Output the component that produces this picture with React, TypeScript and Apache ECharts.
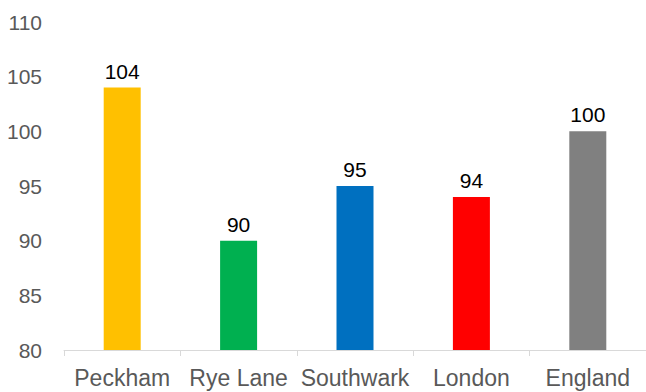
import React, { useEffect, useRef } from "react";
import * as echarts from "echarts";

const categories = ["Peckham", "Rye Lane", "Southwark", "London", "England"];
const values = [104, 90, 95, 94, 100];
const barColors = ["#FFC000", "#00B050", "#0070C0", "#FF0000", "#808080"];

export default function App() {
  const ref = useRef<HTMLDivElement>(null);
  useEffect(() => {
    if (!ref.current) return;
    const chart = echarts.init(ref.current, null, { renderer: "svg" });
    chart.setOption({
      animation: false,
      grid: { left: 64, right: 0, top: 22, bottom: 42, containLabel: false },
      xAxis: {
        type: "category",
        data: categories,
        axisLine: { lineStyle: { color: "#d9d9d9", width: 1 } },
        axisTick: { show: true, length: 6, lineStyle: { color: "#d9d9d9" } },
        axisLabel: {
          color: "#595959",
          fontSize: 23,
          fontFamily: "Liberation Sans, Arial, sans-serif",
          margin: 16,
          interval: 0,
        },
      },
      yAxis: {
        type: "value",
        min: 80,
        max: 110,
        interval: 5,
        splitLine: { show: false },
        axisLine: { show: false },
        axisTick: { show: false },
        axisLabel: {
          color: "#595959",
          fontSize: 21,
          fontFamily: "Liberation Sans, Arial, sans-serif",
          margin: 22,
        },
      },
      series: [
        {
          type: "bar",
          data: values.map((v, i) => ({ value: v, itemStyle: { color: barColors[i] } })),
          barWidth: 37,
          label: {
            show: true,
            position: "top",
            distance: 6,
            color: "#000",
            fontSize: 21,
            fontFamily: "Liberation Sans, Arial, sans-serif",
          },
        },
      ],
    });
    return () => chart.dispose();
  }, []);
  return <div ref={ref} style={{ width: 646, height: 392, position: "absolute", left: 0, top: 0 }} />;
}
